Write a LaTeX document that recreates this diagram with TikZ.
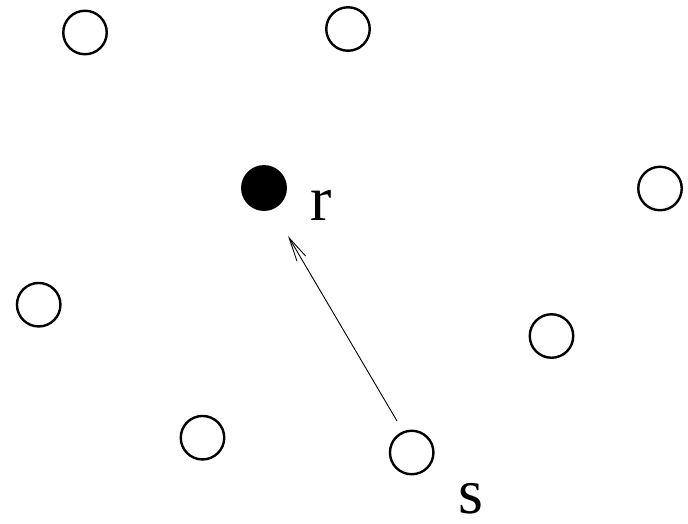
\documentclass[tikz,border=0pt]{standalone}
\usepackage{fontspec}
\setmainfont{Liberation Serif}
\usetikzlibrary{arrows.meta}
\begin{document}
\begin{tikzpicture}[x=1pt,y=-1pt,
  site/.style={circle,draw,line width=2.4pt,minimum size=43.5pt,inner sep=0pt},
  fsite/.style={site,fill=black},
  lbl/.style={font=\fontsize{64}{64}\selectfont,inner sep=0pt,anchor=base}]
\useasboundingbox (0,0) rectangle (688,523);
\node[site] (a) at (85,32.5) {};
\node[site] (b) at (348,29) {};
\node[fsite] (r) at (264,188) {};
\node[site] (c) at (660,188.5) {};
\node[site] (d) at (38.7,304.7) {};
\node[site] (e) at (551.5,336) {};
\node[site] (f) at (202.5,437.7) {};
\node[site] (s) at (411.7,452.5) {};
\node[lbl] (rl) at (321,220) {r};
\node[lbl] (sl) at (471,513.5) {s};
\coordinate (st) at (397,421);
\coordinate (en) at (288,236);
\draw[line width=0.9pt,-{Straight Barb[length=24pt,width=10pt,line width=0.9pt]}] (st) -- (en);
\end{tikzpicture}
\end{document}
